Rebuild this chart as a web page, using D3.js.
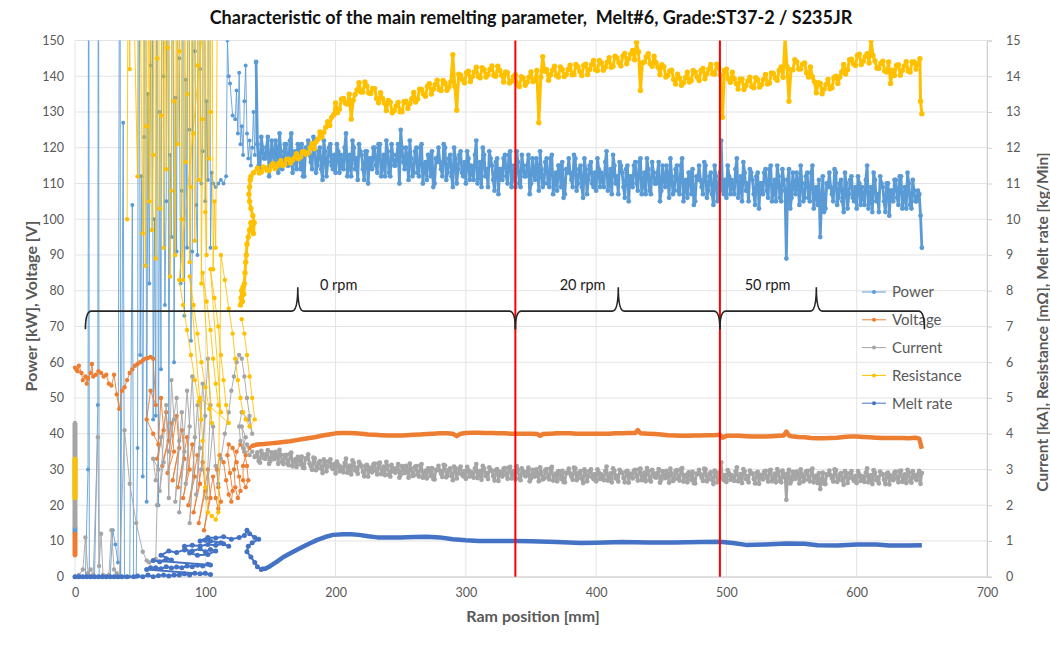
<!DOCTYPE html>
<html><head><meta charset="utf-8">
<script src="https://cdn.jsdelivr.net/npm/d3@7"></script>
<style>body{margin:0;background:#fff}svg{display:block}text{font-family:Lato,"Open Sans",sans-serif}</style>
</head><body><svg id="c" width="1050" height="663"></svg>
<script>
// ---------------- DATA ----------------
const titleText = "Characteristic of the main remelting parameter,  Melt#6, Grade:ST37-2 / S235JR";
const xTicks = [0,100,200,300,400,500,600,700];
const leftTicks = [0,10,20,30,40,50,60,70,80,90,100,110,120,130,140,150];
const rightTicks = [0,1,2,3,4,5,6,7,8,9,10,11,12,13,14,15];
const seriesNames = ["Power","Voltage","Current","Resistance","Melt rate"];
const seriesColors = ["#5B9BD5","#ED7D31","#A5A5A5","#FFC000","#4472C4"];

// Power [kW] (left axis) - start-up phase
const powerEarlyX = [0,0,0, 0,2,4,6,8,10,10.5,11,13,15,17.5,18,18.5,21,24,27,29,31,33,34.5,35,37,38,40,42,44,45,47,
 48,49,50,51,52,53,54,55,56,57,58,59,60,61,62,63,64,65,66,67,68,69,70,71,72,73,74,75,76,77,78,79,80,81,82,83,84,85,86,87,
 88,89,90,91,92,93,94,95,96,97,98,99,100,101,102,103,104,105,106,108,110,112,114,116,117,118,119,121,123,
 124,125,126,127,128,129,130,131,132,133,134,135,136,137,138,139];
const powerEarlyY = [12,14,null, 0,0,0,0,0,30,250,0,0,0,48,250,0,0,0,0,13,9,4,250,0,127,0,0,0,104,0,0,
 36,250,62,112,28,123,250,21,135,82,143,250,44,100,45,250,20,130,58,250,140,76,105,250,38,118,95,250,60,134,
 91,250,145,82,108,250,73,139,92,250,125,66,91,250,147,104,90,250,142,110,119,250,105,133,111,250,92,113,110,
 109,110,111,110,112,150,140,138,129,128,
 136,124,141,121,126,118,133,143,124,117,122,115,120,130,118,144];
// Power steady phase, readings A at ram 140,142..648 mm and readings B at 141,143..649 mm
const powerSteadyA = [
 121,114,120,117,123,115,118,122,113,119, 116,121,115,124,117,114,120,121,112,119,
 118,114,122,115,120,111,119,116,121,114, 113,119,118,114,124,115,112,120,117,121,
 118,111,119,117,114,120,113,121,115,112, 119,112,118,115,121,125,116,120,111,117,
 113,120,112,121,115,111,118,119,110,116, 116,112,120,113,118,109,117,114,119,112,
 110,117,115,111,122,112,109,118,114,119, 115,108,117,114,111,118,110,119,112,109,
 116,109,115,112,118,110,113,117,108,114, 110,117,109,118,111,108,115,116,107,113,
 113,109,117,110,115,106,114,111,116,109, 108,114,113,109,119,110,107,115,112,116,
 113,106,115,112,109,116,108,117,110,107, 114,107,113,110,116,108,111,115,106,112,
 108,115,107,117,109,106,113,114,105,111, 111,107,115,108,113,104,112,109,122,107,
 106,112,111,107,117,108,105,113,110,114, 111,104,113,110,107,114,106,115,108,105,
 112,105,111,89,114,106,109,113,104,110, 106,113,105,115,107,104,95,112,103,109,
 109,105,113,106,111,102,110,107,112,105, 103,110,109,104,115,105,102,111,107,112,
 109,102,110,108,105,111,104,112,106,103, 110,103,108,105,107];
const powerSteadyB = [
 115,123,117,120,112,122,116,119,124,114, 121,115,122,113,119,121,114,112,120,122,
 116,123,113,119,114,122,112,120,115,118, 121,113,115,120,112,118,122,114,111,119,
 114,119,110,117,120,115,121,112,118,122, 113,121,115,118,110,120,114,117,122,112,
 119,113,120,110,116,118,112,109,117,120, 114,121,111,117,112,120,110,118,113,116,
 119,111,113,118,110,116,120,112,109,117, 111,116,107,114,117,112,118,109,115,119,
 110,118,112,115,107,117,111,114,119,109, 116,110,117,107,113,115,109,106,114,117,
 111,118,108,114,109,117,107,115,110,113, 117,109,111,116,108,114,118,110,107,115,
 109,114,105,112,115,110,116,107,113,117, 108,116,110,113,105,115,109,112,117,107,
 114,108,115,105,111,113,107,104,112,115, 109,116,106,112,107,115,105,113,108,111,
 115,107,109,114,106,112,116,108,105,113, 107,112,103,110,113,108,114,105,111,115,
 106,114,108,111,103,113,107,110,115,105, 112,106,113,103,109,111,105,102,110,113,
 107,114,104,110,105,113,103,111,106,109, 112,104,106,111,103,109,113,105,102,110,
 105,110,101,108,111,106,112,103,109,113, 104,111,105,108,101];
const powerTailX = [650], powerTailY = [92];

// Voltage [V] (left axis)
const voltEarlyX = [0,0,0, 0,1,2,3,5,6,8,9,10,12,13,14,16,18,20,22,24,26,28,30,32,34,36,38,40,42,44,46,48,50,52,54,56,58,60,
 62,58,55,60,64,66,68,63,70,72,67,74,76,71,78,80,75,82,84,79,86,88,83,90,92,87,94,96,91,98,100,95,102,104,99,106,108,110,112,
 110,109,111,114,116,118,120,121,119,117,118,121,124,126,127,125,123,122,124,127,130,132,133,131,129,129,131,134,136];
const voltEarlyY = [6,12,null, 58.5,58,57.5,59,57,55,56,54,55.5,57,59.5,56,56.5,57.5,57,56,56.5,54,53.5,56.5,51,47,52,53,55,57,58,59,59.5,60,60.5,61,61.2,61.5,61,
 48,52,44,40,37,50,41,33,46,38,31,43,35,29,45,36,27,41,33,25,39,30,22,37,28,20,34,26,18,32,24,15,30,22,13,28,22,19,21,
 25,30,34,32,27,23,21,24,29,34,37,36,32,28,24,22,25,30,35,37,35,31,27,25,27,31,34,36,36.6];
const voltSteadyX = [140,145,150,155,160,165,170,175,180,185,190,195,200,205,210,215,220,225,230,235,240,245,250,255,260,265,270,275,280,285,290,293,296,
 300,305,310,315,320,325,330,335,340,345,350,355,357,359,365,370,375,380,385,390,395,400,405,410,415,420,425,430,432,434,440,445,450,455,460,465,470,475,480,485,490,495,497,
 500,505,510,515,520,525,530,535,540,544,546,548,550,555,560,565,570,575,580,585,590,595,600,605,610,615,620,625,630,635,640,645,648,650];
const voltSteadyY = [37.0,37.1,37.3,37.5,37.7,37.9,38.2,38.5,38.8,39.1,39.5,39.8,40.1,40.2,40.2,40.1,40.0,39.8,39.7,39.6,39.5,39.5,39.5,39.6,39.7,39.8,39.9,40.0,40.1,40.1,40.0,39.3,40.0,
 40.2,40.3,40.3,40.2,40.2,40.1,40.1,40.0,40.0,40.0,40.0,39.9,39.4,39.9,40.0,40.1,40.1,40.1,40.0,40.0,40.0,40.0,40.0,40.0,40.1,40.1,40.2,40.2,41.0,40.1,40.0,39.9,39.8,39.6,39.5,39.4,39.4,39.5,39.5,39.6,39.6,39.7,38.9,
 39.4,39.4,39.4,39.3,39.2,39.2,39.2,39.3,39.4,39.5,40.6,39.5,39.3,39.1,39.0,38.8,38.7,38.7,38.8,38.9,39.1,39.2,39.2,39.1,39.0,38.9,38.8,38.8,38.8,38.8,38.7,38.9,38.6,35.8];

// Current [kA] (right axis)
const currEarlyX = [0,0,0, 0,3,6,8,10,12,14,17.5,18.5,20,21.5,24,26,28,30,32,34,38,42,47,52,55,57,62,63,64,60,
 62,66,68,65,70,72,74,76,72,78,80,77,82,84,80,86,88,85,90,92,88,94,96,93,98,100,97,102,104,101,
 106,108,110,112,115,118,120,122,124,126,128,130,132,134,136,133,128,126,127,129,131,128,130,132,134,136,138];
const currEarlyY = [1.4,4.3,null, 0,0.05,0.2,1.1,0.1,0.2,0.05,3.9,0.3,1.2,0.05,0,0.05,1.3,0.2,0.1,0,4.1,2.6,1.5,0.7,0.45,0.4,0.5,2.0,3.0,3.3,
 2.7,3.9,3.2,2.4,4.8,2.2,5.5,4.4,3.5,5.0,3.8,2.1,4.6,3.5,1.8,5.2,4.2,2.6,5.6,3.9,1.5,4.8,3.6,2.3,5.4,4.5,3.0,6.1,4.8,2.2,
 4.2,3.1,2.6,3.3,4.0,4.6,5.2,5.6,6.0,6.2,6.1,5.6,5.0,4.5,4.0,4.4,4.6,4.2,3.8,3.6,3.9,4.2,3.5,3.7,3.4,3.5,3.35];
// Current steady phase, readings A at 140,142..648 mm and B at 141,143..649 mm
const currSteadyA = [
 3.48,3.19,3.43,3.30,3.54,3.24,3.37,3.49,3.16,3.41, 3.15,3.41,3.12,3.47,3.22,3.07,3.33,3.36,3.04,3.30,
 3.17,2.99,3.31,3.04,3.23,2.90,3.22,3.09,3.28,3.01, 2.89,3.13,3.08,2.92,3.30,2.99,2.86,3.18,3.05,3.21,
 3.08,2.81,3.13,3.05,2.92,3.16,2.86,3.19,2.95,2.84, 3.09,2.80,3.04,2.91,3.15,2.85,2.98,3.10,2.77,3.02,
 2.83,3.09,2.80,3.15,2.90,2.75,3.01,3.04,2.72,2.98, 2.97,2.79,3.11,2.84,3.03,2.70,3.02,2.89,3.08,2.81,
 2.74,2.98,2.93,2.77,3.15,2.84,2.71,3.03,2.90,3.06, 2.96,2.69,3.01,2.93,2.80,3.04,2.74,3.07,2.83,2.72,
 2.99,2.70,2.94,2.81,3.05,2.75,2.88,3.00,2.67,2.92, 2.75,3.01,2.72,3.07,2.82,2.67,2.93,2.96,2.64,2.90,
 2.89,2.71,3.03,2.76,2.95,2.62,2.94,2.81,3.00,2.73, 2.67,2.91,2.86,2.70,3.08,2.77,2.64,2.96,2.83,2.99,
 2.91,2.64,2.96,2.88,2.75,2.99,2.69,3.02,2.78,2.67, 2.95,2.66,2.90,2.77,3.01,2.71,2.84,2.96,2.63,2.88,
 2.72,2.98,2.69,3.04,2.79,2.64,2.90,2.93,2.61,2.87, 2.86,2.68,3.00,2.73,2.92,2.59,2.91,2.78,3.20,2.70,
 2.65,2.89,2.84,2.68,3.06,2.75,2.62,2.94,2.81,2.97, 2.88,2.61,2.93,2.85,2.72,2.96,2.66,2.99,2.75,2.64,
 2.93,2.64,2.88,2.15,2.99,2.69,2.82,2.94,2.61,2.86, 2.70,2.96,2.67,3.02,2.77,2.62,2.45,2.91,2.59,2.85,
 2.84,2.66,2.98,2.71,2.90,2.57,2.89,2.76,2.95,2.68, 2.62,2.86,2.81,2.65,3.03,2.72,2.59,2.91,2.78,2.94,
 2.86,2.59,2.91,2.83,2.70,2.94,2.64,2.97,2.73,2.62, 2.91,2.63,2.85,2.70,2.96];
const currSteadyB = [
 3.24,3.52,3.32,3.43,3.16,3.48,3.29,3.39,3.55,3.21, 3.39,3.18,3.43,3.09,3.28,3.35,3.14,3.05,3.31,3.42,
 3.08,3.33,2.98,3.19,3.02,3.28,2.95,3.23,3.06,3.15, 3.22,2.95,3.02,3.18,2.91,3.11,3.25,2.97,2.88,3.14,
 2.93,3.10,2.80,3.04,3.14,2.97,3.17,2.87,3.08,3.21, 2.85,3.13,2.93,3.04,2.77,3.09,2.90,3.00,3.16,2.82,
 3.07,2.86,3.11,2.77,2.96,3.03,2.82,2.73,2.99,3.10, 2.88,3.13,2.78,2.99,2.82,3.08,2.75,3.03,2.86,2.95,
 3.07,2.80,2.87,3.03,2.76,2.96,3.10,2.82,2.73,2.99, 2.81,2.98,2.68,2.92,3.02,2.85,3.05,2.75,2.96,3.09,
 2.75,3.03,2.83,2.94,2.67,2.99,2.80,2.90,3.06,2.72, 2.99,2.78,3.03,2.69,2.88,2.95,2.74,2.65,2.91,3.02,
 2.80,3.05,2.70,2.91,2.74,3.00,2.67,2.95,2.78,2.87, 3.00,2.73,2.80,2.96,2.69,2.89,3.03,2.75,2.66,2.92,
 2.76,2.93,2.63,2.87,2.97,2.80,3.00,2.70,2.91,3.04, 2.71,2.99,2.79,2.90,2.63,2.95,2.76,2.86,3.02,2.68,
 2.96,2.75,3.00,2.66,2.85,2.92,2.71,2.62,2.88,2.99, 2.77,3.02,2.67,2.88,2.71,2.97,2.64,2.92,2.75,2.84,
 2.98,2.71,2.78,2.94,2.67,2.87,3.01,2.73,2.64,2.90, 2.73,2.90,2.60,2.84,2.94,2.77,2.97,2.67,2.88,3.01,
 2.69,2.97,2.77,2.88,2.61,2.93,2.74,2.84,3.00,2.66, 2.94,2.73,2.98,2.64,2.83,2.90,2.69,2.60,2.86,2.97,
 2.75,3.00,2.65,2.86,2.69,2.95,2.62,2.90,2.73,2.82, 2.95,2.68,2.75,2.91,2.64,2.84,2.98,2.70,2.61,2.87,
 2.71,2.88,2.58,2.82,2.92,2.75,2.95,2.65,2.86,2.99, 2.67,2.95,2.75,2.86,2.60];
const currTailX = [650], currTailY = [2.9];

// Resistance [mOhm] (right axis)
const resEarlyX = [0,0,0, 40,41,42,43,48,49,52,
 53,54,55,56,57,58,59,60,61,62,63,64,65,66,67,68,69,70,71,72,73,74,75,76,77,78,79,80,81,82,
 83,84,85,86,87,88,89,90,91,92,93,94,95,96,97,98,99,100,101,102,103,104,105,106,107,108,110,
 80,83,86,89,92,95,97, 88,91,94,97,100,103,105, 98,101,104,106,108,110,112, 104,107,110,112,114,116,118, 96,98,100,102,105,108,110,
 112,115,118,121,123,125,127,129,131,134,138,136,134,132,130,128];
const resEarlyY = [2.2,3.3,null, 10,20,14.2,20,11.2,20,9.6,
 20,8.7,12.6,20,10.5,20,9.7,11.8,20,8.9,14.5,20,10.3,12.9,20,9.2,20,11.4,14.8,20,8.4,10.8,20,13.3,9.0,20,12.1,14.7,20,10.0,
 8.3,20,11.6,13.5,20,8.8,10.9,20,12.4,9.4,20,14.3,11.1,20,8.2,12.8,20,10.2,9.0,20,11.7,13.0,20,8.6,10.5,9.2,20,
 8.3,7.6,6.9,6.2,5.5,4.9,4.4, 8.4,7.6,6.8,6.0,5.3,4.7,4.3, 8.5,7.7,6.9,6.1,5.4,4.8,4.6, 8.6,7.8,7.0,6.2,5.5,4.8,4.3, 5.0,3.8,2.5,1.8,1.7,1.6,1.8,
 9.0,8.3,7.5,6.8,6.1,5.5,5.0,4.6,4.4,4.2,4.4,5.0,5.6,6.2,6.8,7.2];
const resCurveX = [127,127.5,128,128.5,129,129.5,130,130.5,131,131.5,132,133,134,135,136,137,137.5,136.5,135,134,133.5,134,134.5,135,137];
const resCurveY = [7.6,7.8,8.0,7.7,8.1,7.9,8.2,8.5,8.8,9.0,9.3,9.5,9.7,9.9,9.8,9.6,9.9,10.1,10.3,10.5,10.7,10.9,11.1,11.2,11.3];
// Resistance steady phase, readings A at 140,143..647 mm and B at 141.5,144.5..648.5 mm
const resSteadyA = [
 11.43,11.32,11.44,11.36,11.56,11.49,11.64,11.53,11.68,11.65, 11.83,11.74,11.89,11.86,12.11,12.17,12.44,12.43,12.73,12.85,
 13.25,13.08,13.38,13.22,12.80,13.49,13.82,13.56,13.73,13.52, 13.65,13.26,13.38,13.04,13.27,13.04,13.27,13.01,13.30,13.23,
 13.55,13.36,13.63,13.44,13.79,13.64,13.89,13.60,13.81,13.70, 14.60,13.05,14.03,13.82,14.14,13.99,14.25,13.96,14.18,14.05,
 14.29,14.00,14.16,13.84,14.10,13.86,14.04,13.71,13.95,13.83, 14.12,13.88,12.70,14.55,14.18,14.04,14.28,13.98,14.19,14.05,
 14.31,14.05,14.26,14.02,14.34,14.19,14.44,14.16,14.37,14.25, 14.52,14.28,14.51,14.29,14.64,14.49,14.72,14.95,13.60,14.40,
 14.63,14.28,14.38,14.04,14.27,14.02,14.17,13.78,13.95,13.82, 14.11,13.88,14.11,13.88,14.22,14.07,14.33,14.06,14.23,12.85,
 14.20,13.83,13.93,13.64,13.92,13.74,13.97,13.68,13.90,13.77, 14.05,13.81,14.08,13.89,14.26,15.10,13.30,14.18,14.40,14.20,
 14.37,13.98,13.98,13.54,13.80,13.64,13.91,13.68,14.00,13.98, 14.33,14.18,14.48,14.30,14.62,14.42,14.63,15.00,14.43,14.22,
 14.42,14.12,13.80,14.02,14.32,14.16,14.41,14.12,14.40,14.35];
const resSteadyB = [
 11.29,11.46,11.37,11.50,11.42,11.56,11.50,11.67,11.57,11.72, 11.69,11.88,11.82,12.00,11.97,12.24,12.30,12.57,12.62,12.92,
 12.98,13.36,13.25,13.50,13.33,13.62,13.56,13.84,13.53,13.66, 13.38,13.54,13.25,13.32,12.98,13.17,13.01,13.29,13.10,13.37,
 13.28,13.64,13.50,13.72,13.50,13.77,13.63,13.88,13.61,13.84, 13.73,14.06,13.90,14.10,13.85,14.12,13.99,14.24,13.98,14.19,
 14.02,14.28,14.03,14.12,13.81,13.99,13.78,13.99,13.75,13.97, 13.85,14.16,13.97,14.14,13.89,14.17,14.02,14.26,13.99,14.19,
 14.04,14.33,14.13,14.30,14.05,14.32,14.18,14.44,14.17,14.39, 14.25,14.56,14.38,14.57,14.35,14.62,14.46,14.68,14.38,14.54,
 14.36,14.56,14.25,14.32,13.98,14.15,13.91,14.06,13.75,13.96, 13.84,14.16,13.98,14.16,13.93,14.20,14.07,14.34,14.03,14.16,
 13.93,14.11,13.80,13.92,13.63,13.87,13.71,13.96,13.70,13.91, 13.78,14.09,13.95,14.17,13.97,14.27,14.18,14.46,14.20,14.34,
 14.10,14.26,13.85,13.82,13.51,13.77,13.65,13.96,13.80,14.12, 14.06,14.46,14.35,14.58,14.33,14.55,14.37,14.58,14.23,14.36,
 14.15,14.40,14.17,14.30,14.03,14.29,14.15,14.40,14.20,14.49];
const resTailX = [649,650], resTailY = [13.3,12.95];

// Melt rate [kg/Min] (right axis)
const meltEarlyX = [0,3,6,9,12,15,18,21,24,27,30,33,36,40,45,48,52,56,60,64,68,72,76,80,84,88,92,96,100,104,
 55,58,62,66,70,74,78,82,86,90,94,98,102,104,
 60,65,70,74,66,72,78,84,90,96,100,104,108,102,94,88,84,90,96,102,108,114,118,112,104,100,96,102,108,114,
 120,126,130,132,134,138,141,136,133,132,135,138,140,143];
const meltEarlyY = [0,0,0,0,0,0,0,0,0,0,0,0,0,0,0,0.02,0,0.05,0,0.03,0.05,0.02,0.05,0.05,0.08,0.05,0.1,0.08,0.1,0.06,
 0.2,0.25,0.25,0.22,0.28,0.24,0.27,0.25,0.3,0.28,0.32,0.3,0.35,0.33,
 0.45,0.42,0.5,0.47,0.6,0.72,0.68,0.75,0.72,0.78,0.7,0.76,0.72,0.62,0.6,0.66,0.85,0.88,0.86,0.9,0.88,0.92,0.85,0.95,1.0,1.02,1.0,1.1,1.08,1.12,
 1.05,1.1,1.15,1.3,1.2,1.1,1.05,0.95,0.85,0.7,0.55,0.4,0.28,0.2];
const meltSteadyX = [143,146,150,155,160,166,173,180,186,192,198,206,212,218,225,232,240,250,260,270,280,290,300,310,320,338,350,370,388,400,
 420,440,460,480,495,505,515,530,546,560,570,585,600,615,625,640,650];
const meltSteadyY = [0.22,0.22,0.3,0.42,0.55,0.67,0.8,0.93,1.03,1.11,1.17,1.19,1.19,1.17,1.13,1.1,1.1,1.1,1.11,1.12,1.1,1.05,1.02,1.0,1.0,1.0,0.99,0.97,0.94,0.95,
 0.97,0.96,0.96,0.97,0.98,0.94,0.89,0.9,0.93,0.92,0.88,0.87,0.9,0.9,0.87,0.87,0.88];

// Annotations: rotation-speed zones (ram position in mm)
const rpmLabels = ["0 rpm","20 rpm","50 rpm"];
const braceStart = [8,338,495], braceTip = [171,417,569], braceEnd = [338,495,652];
const redLinesX = [338,495];

// ---------------- DRAW ----------------
const svg = d3.select('#c');
const P = {l:75, r:987, t:40.5, b:576.7};
const x = d3.scaleLinear().domain([0,700]).range([P.l,P.r]);
const yL = d3.scaleLinear().domain([0,150]).range([P.b,P.t]);
const yR = d3.scaleLinear().domain([0,15]).range([P.b,P.t]);
const gray = "#595959";

svg.append('rect').attr('width',1050).attr('height',663).attr('fill','#fff');

// gridlines
svg.append('g').selectAll('line').data(leftTicks).join('line')
  .attr('x1',P.l).attr('x2',P.r).attr('y1',d=>yL(d)).attr('y2',d=>yL(d))
  .attr('stroke','#e3e3e3').attr('stroke-width',1);
svg.append('g').selectAll('line').data(xTicks).join('line')
  .attr('x1',d=>x(d)).attr('x2',d=>x(d)).attr('y1',P.t).attr('y2',P.b)
  .attr('stroke','#e3e3e3').attr('stroke-width',1);

// axes
const axL = svg.append('g').attr('transform',`translate(${P.l},0)`)
  .call(d3.axisLeft(yL).tickValues(leftTicks).tickSize(0).tickPadding(11));
axL.select('.domain').remove();
const axR = svg.append('g').attr('transform',`translate(${P.r},0)`)
  .call(d3.axisRight(yR).tickValues(rightTicks).tickSize(5).tickPadding(14));
axR.select('.domain').attr('stroke','#d0d0d0');
axR.selectAll('.tick line').attr('stroke','#d0d0d0');
const axB = svg.append('g').attr('transform',`translate(0,${P.b})`)
  .call(d3.axisBottom(x).tickValues(xTicks).tickSize(0).tickPadding(11));
axB.select('.domain').attr('stroke','#d0d0d0');
svg.selectAll('.tick text').attr('fill',gray).attr('font-size',12.5).attr('font-family','Lato, sans-serif');

// plot clip
svg.append('clipPath').attr('id','pc').append('rect')
  .attr('x',P.l-6).attr('y',P.t).attr('width',P.r-P.l+12).attr('height',P.b-P.t+5);
const plot = svg.append('g').attr('clip-path','url(#pc)');

function pts(xs, ys){ return xs.map((v,i)=>({x:v, y:ys[i]})); }
function grid(start, step, ys){ return ys.map((v,i)=>({x:start+step*i, y:v})); }
function merge(a, b){ return a.concat(b).sort((p,q)=>p.x-q.x); }
function draw(data, sy, color, lw, r, op){
  const line = d3.line().defined(d=>d.y!=null).x(d=>x(d.x)).y(d=>sy(d.y));
  // leading block of readings taken at ram position 0 (before the first gap) is drawn as a dense bar
  const gap = data.findIndex(d=>d.y==null);
  if(gap>0){
    plot.append('path').datum(data.slice(0,gap)).attr('d',line).attr('fill','none')
      .attr('stroke',color).attr('stroke-width',5);
  }
  plot.append('path').datum(data).attr('d',line).attr('fill','none')
    .attr('stroke',color).attr('stroke-width',lw).attr('stroke-opacity',op||1).attr('stroke-linejoin','round');
  if(r) plot.append('g').selectAll('circle').data(data.filter(d=>d.y!=null)).join('circle')
    .attr('cx',d=>x(d.x)).attr('cy',d=>sy(d.y)).attr('r',r).attr('fill',color);
}

// Power
draw(pts(powerEarlyX,powerEarlyY), yL, seriesColors[0], 1, 2, 0.85);
draw([{x:139,y:144}].concat(merge(grid(140,2,powerSteadyA), grid(141,2,powerSteadyB)), pts(powerTailX,powerTailY)), yL, seriesColors[0], 2.8, 2.4);
// Voltage
draw(pts(voltEarlyX,voltEarlyY), yL, seriesColors[1], 1, 2.2, 0.9);
draw([{x:136,y:36.6}].concat(pts(voltSteadyX,voltSteadyY)), yL, seriesColors[1], 4.5, 0);
// Current
draw(pts(currEarlyX,currEarlyY), yR, seriesColors[2], 1, 2.2, 0.9);
draw([{x:138,y:3.35}].concat(merge(grid(140,2,currSteadyA), grid(141,2,currSteadyB)), pts(currTailX,currTailY)), yR, seriesColors[2], 2.6, 2.4);
// Resistance
draw(pts(resEarlyX,resEarlyY), yR, seriesColors[3], 1, 2.2, 0.85);
draw(pts(resCurveX,resCurveY).concat(merge(grid(140,3,resSteadyA), grid(141.5,3,resSteadyB)), pts(resTailX,resTailY)), yR, seriesColors[3], 3, 2.7);
// Melt rate
draw(pts(meltEarlyX,meltEarlyY), yR, seriesColors[4], 2, 2.5);
draw(pts(meltSteadyX,meltSteadyY), yR, seriesColors[4], 4.5, 0);

// red lines
svg.append('g').selectAll('line').data(redLinesX).join('line')
  .attr('x1',d=>x(d)).attr('x2',d=>x(d)).attr('y1',P.t).attr('y2',P.b)
  .attr('stroke','#FF0000').attr('stroke-width',2);

// legend
const lg = svg.append('g');
seriesNames.forEach((n,i)=>{
  const yy = 292 + i*27.8;
  lg.append('line').attr('x1',862).attr('x2',886).attr('y1',yy).attr('y2',yy).attr('stroke',seriesColors[i]).attr('stroke-width',1);
  lg.append('circle').attr('cx',874).attr('cy',yy).attr('r',2).attr('fill',seriesColors[i]);
  lg.append('text').attr('x',892).attr('y',yy).attr('dy','0.36em').attr('font-size',15).attr('fill',gray).text(n);
});

// braces
const yB = yL(74.3), yHook = yL(69.2), yTip = yL(81);
braceStart.forEach((s,i)=>{
  const x1=x(s), x2=x(braceEnd[i]), xm=x(braceTip[i]);
  const p = `M${x1},${yHook} Q${x1},${yB} ${x1+6},${yB} L${xm-6},${yB} Q${xm},${yB} ${xm},${yTip} Q${xm},${yB} ${xm+6},${yB} L${x2-6},${yB} Q${x2},${yB} ${x2},${yHook}`;
  svg.append('path').attr('d',p).attr('fill','none').attr('stroke','#262626').attr('stroke-width',1.6);
});
const rpmX = [x(188), x(372), x(514)];
rpmLabels.forEach((t,i)=>{
  svg.append('text').attr('x',rpmX[i]).attr('y',yL(80.3)).attr('font-size',14.5).attr('fill','#1a1a1a').text(t);
});

// titles
svg.append('text').attr('x',531).attr('y',24).attr('text-anchor','middle').attr('font-size',18).attr('font-weight','bold')
  .attr('fill','#111').style('white-space','pre').text(titleText);
svg.append('text').attr('x',533).attr('y',622).attr('text-anchor','middle').attr('font-size',16).attr('font-weight','bold').attr('fill',gray).text('Ram position [mm]');
svg.append('text').attr('transform','translate(37,306) rotate(-90)').attr('text-anchor','middle').attr('font-size',16).attr('font-weight','bold').attr('fill',gray).text('Power [kW], Voltage [V]');
svg.append('text').attr('transform','translate(1048,322) rotate(-90)').attr('text-anchor','middle').attr('font-size',15.5).attr('font-weight','bold').attr('fill',gray).text('Current [kA], Resistance [mΩ], Melt rate [kg/Min]');
</script></body></html>
